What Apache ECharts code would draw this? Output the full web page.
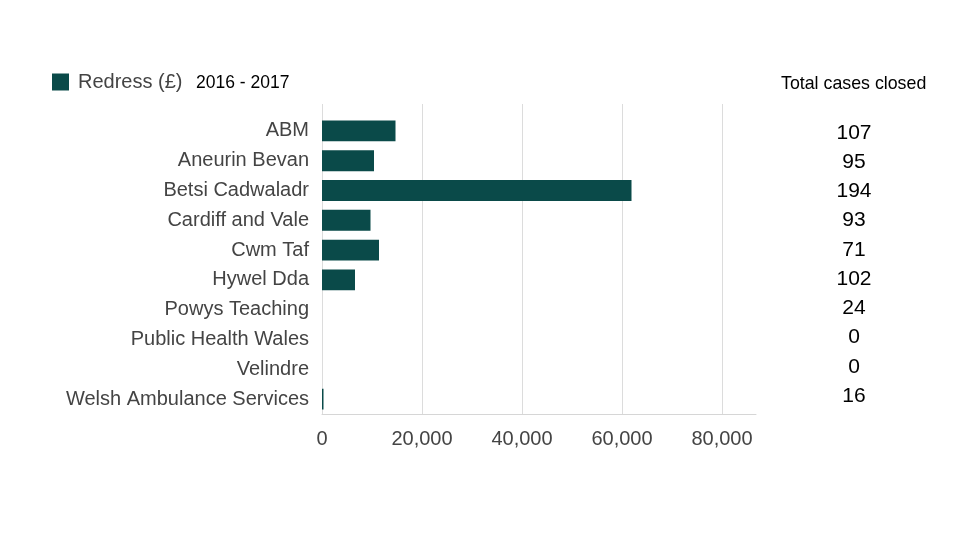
<!DOCTYPE html>
<html>
<head>
<meta charset="utf-8">
<script src="https://cdn.jsdelivr.net/npm/echarts@6/dist/echarts.min.js"></script>
<style>html,body{margin:0;padding:0;background:#fff}#c{width:976px;height:549px}</style>
</head>
<body>
<div id="c"></div>
<script>
const categories = ['ABM','Aneurin Bevan','Betsi Cadwaladr','Cardiff and Vale','Cwm Taf','Hywel Dda','Powys Teaching','Public Health Wales','Velindre','Welsh Ambulance Services'];
const redress = [14700, 10400, 61900, 9700, 11400, 6600, 0, 0, 0, 300];
const casesClosed = [107, 95, 194, 93, 71, 102, 24, 0, 0, 16];
const xTicks = [0, 20000, 40000, 60000, 80000];
const seriesName = 'Redress (£)';
const periodLabel = '2016 - 2017';
const casesTitle = 'Total cases closed';

const FONT = "'Liberation Sans', Arial, sans-serif";
const chart = echarts.init(document.getElementById('c'));
const fmt = v => xTicks.includes(v) ? v.toLocaleString('en-US') : '';
chart.setOption({
  animation: false,
  textStyle: {fontFamily: FONT},
  title: [
    {text: periodLabel, left: 196, top: 74, padding: 0, textStyle: {fontSize: 17.5, fontWeight: 'normal', color: '#000', fontFamily: FONT}},
    {text: casesTitle, left: 781, top: 75, padding: 0, textStyle: {fontSize: 17.8, fontWeight: 'normal', color: '#000', fontFamily: FONT}}
  ],
  legend: {
    data: [seriesName], left: 52, top: 72, padding: 0,
    icon: 'rect', itemWidth: 17, itemHeight: 17, itemGap: 5,
    textStyle: {fontSize: 20, color: '#444', fontFamily: FONT, padding: [0,0,0,4]}
  },
  grid: [
    {left: 322, right: 976 - 722, top: 104, bottom: 549 - 414, containLabel: false},
    {left: 322, right: 976 - 756, top: 116, bottom: 549 - 414, containLabel: false},
    {left: 854, width: 1, top: 118.4, bottom: 549 - 410.6, containLabel: false}
  ],
  xAxis: [
    {gridIndex: 0, type: 'value', min: 0, max: 80000, interval: 20000,
     axisLine: {show: false}, axisTick: {show: false}, axisLabel: {show: false},
     splitLine: {show: true, lineStyle: {color: '#dcdcdc', width: 1}}},
    {gridIndex: 1, type: 'value', min: 0, max: 86800, interval: 20000,
     axisLine: {show: true, lineStyle: {color: '#d6d6d6', width: 1}}, axisTick: {show: false},
     splitLine: {show: false},
     axisLabel: {show: true, formatter: fmt, fontSize: 20, color: '#444', margin: 15, fontFamily: FONT, showMaxLabel: false}},
    {gridIndex: 2, type: 'value', show: false}
  ],
  yAxis: [
    {gridIndex: 0, type: 'category', data: categories, show: false},
    {gridIndex: 1, type: 'category', data: categories, inverse: true,
     axisLine: {show: false}, axisTick: {show: false}, splitLine: {show: false},
     axisLabel: {fontSize: 20, color: '#444', margin: 13, fontFamily: FONT}},
    {gridIndex: 2, type: 'category', data: casesClosed.map(String), inverse: true,
     axisLine: {show: false}, axisTick: {show: false}, splitLine: {show: false},
     axisLabel: {fontSize: 21, color: '#000', margin: 0, align: 'center', fontFamily: FONT}}
  ],
  series: [{
    name: seriesName, type: 'bar', xAxisIndex: 1, yAxisIndex: 1,
    data: redress, barCategoryGap: '30%',
    itemStyle: {color: '#0a4a49'}
  }]
});
</script>
</body>
</html>
